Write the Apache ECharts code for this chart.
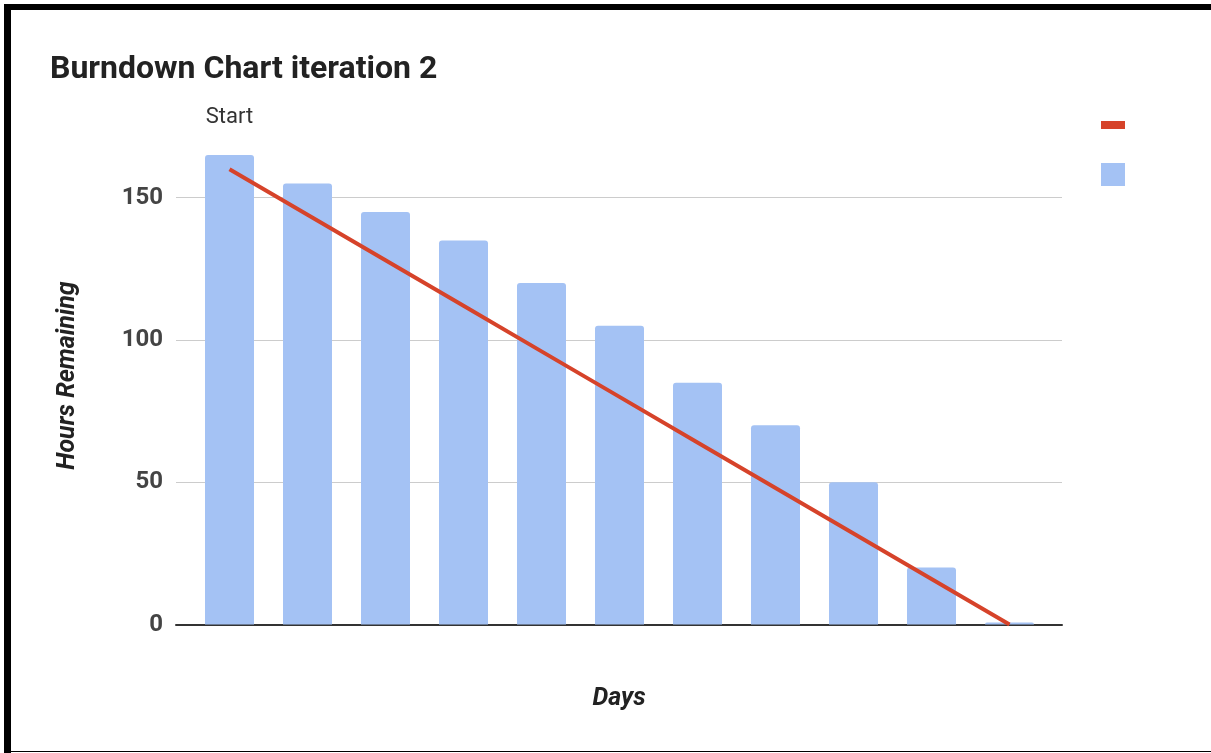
<!DOCTYPE html>
<html>
<head>
<meta charset="utf-8">
<script src="https://cdn.jsdelivr.net/npm/echarts@6/dist/echarts.min.js"></script>
<style>
  html, body { margin: 0; padding: 0; background: #fff; overflow: hidden; }
  #wrap { position: relative; width: 1211px; height: 753px; overflow: hidden; background: #fff; }
  #chart { position: absolute; left: 0; top: 0; width: 1211px; height: 753px; }
  .bar { position: absolute; background: #000; pointer-events: none; }
  #bTop { left: 4px; top: 4px; width: 1207px; height: 6px; }
  #bLeft { left: 4px; top: 4px; width: 7px; height: 749px; }
  #bBottom { left: 4px; top: 751px; width: 1207px; height: 1px; }
</style>
</head>
<body>
<div id="wrap">
  <div id="chart"></div>
  <div class="bar" id="bTop"></div>
  <div class="bar" id="bLeft"></div>
  <div class="bar" id="bBottom"></div>
</div>
<script>
// ---- data ----
const titleText = 'Burndown Chart iteration 2';
const dayIndex = [0, 1, 2, 3, 4, 5, 6, 7, 8, 9, 10];
const actualHours = [165, 155, 145, 135, 120, 105, 85, 70, 50, 20, 0];
const idealHours = [160, 144, 128, 112, 96, 80, 64, 48, 32, 16, 0];
const annotations = ['Start', '', '', '', '', '', '', '', '', '', ''];
const yTicks = [0, 50, 100, 150];
const xAxisName = 'Days';
const yAxisName = 'Hours Remaining';

const font = 'Roboto, "Noto Sans", sans-serif';

const barData = dayIndex.map((d, i) => {
  const item = { value: [d, actualHours[i]] };
  if (annotations[i]) {
    item.label = {
      show: true, position: 'top', distance: 27,
      formatter: annotations[i],
      color: '#333', fontSize: 22, fontFamily: font
    };
  }
  return item;
});
const lineData = dayIndex.map((d, i) => [d, idealHours[i]]);

const chart = echarts.init(document.getElementById('chart'), null, { renderer: 'canvas' });
chart.setOption({
  animation: false,
  backgroundColor: '#fff',
  title: {
    text: titleText, left: 45, top: 49,
    textStyle: { fontFamily: font, fontWeight: 'bold', fontSize: 32, color: '#222' }
  },
  legend: [
    { data: [{ name: 'Ideal', icon: 'rect' }], left: 1101, top: 121, orient: 'vertical',
      itemWidth: 24, itemHeight: 8, formatter: () => '', selectedMode: false, padding: 0 },
    { data: [{ name: 'Actual', icon: 'rect' }], left: 1101, top: 163, orient: 'vertical',
      itemWidth: 24, itemHeight: 23, formatter: () => '', selectedMode: false, padding: 0 }
  ],
  grid: { left: 176, right: 1211 - 1062, top: 126.6, bottom: 753 - 624.5, containLabel: false },
  xAxis: {
    type: 'value', min: -0.686, max: 10.673,
    name: xAxisName, nameLocation: 'middle', nameGap: 62,
    nameTextStyle: { fontFamily: font, fontStyle: 'italic', fontWeight: 'bold', fontSize: 25, color: '#222' },
    axisLine: { show: true, onZero: false, lineStyle: { color: '#333', width: 2 } },
    axisTick: { show: false }, axisLabel: { show: false }, splitLine: { show: false }
  },
  yAxis: {
    type: 'value', min: 0, max: 175, interval: 50,
    name: yAxisName, nameLocation: 'middle', nameGap: 96, nameRotate: 90,
    nameTextStyle: { fontFamily: font, fontStyle: 'italic', fontWeight: 'bold', fontSize: 25, color: '#222' },
    axisLine: { show: false }, axisTick: { show: false },
    axisLabel: {
      margin: 13, fontFamily: font, fontWeight: 'bold', fontSize: 24, color: '#444',
      showMaxLabel: false,
      formatter: v => (yTicks.indexOf(v) >= 0 ? String(v) : '')
    },
    splitLine: { show: true, showMaxLine: false, lineStyle: { color: '#ccc', width: 1 } }
  },
  series: [
    {
      name: 'Actual', type: 'bar', data: barData, barWidth: 49, barMinHeight: 2,
      itemStyle: { color: '#a4c2f4', borderRadius: [3, 3, 0, 0] }, z: 2
    },
    {
      name: 'Ideal', type: 'line', data: lineData, showSymbol: false, symbol: 'none',
      lineStyle: { color: '#d6432a', width: 4 }, itemStyle: { color: '#d6432a' }, z: 3
    }
  ]
});
</script>
</body>
</html>
